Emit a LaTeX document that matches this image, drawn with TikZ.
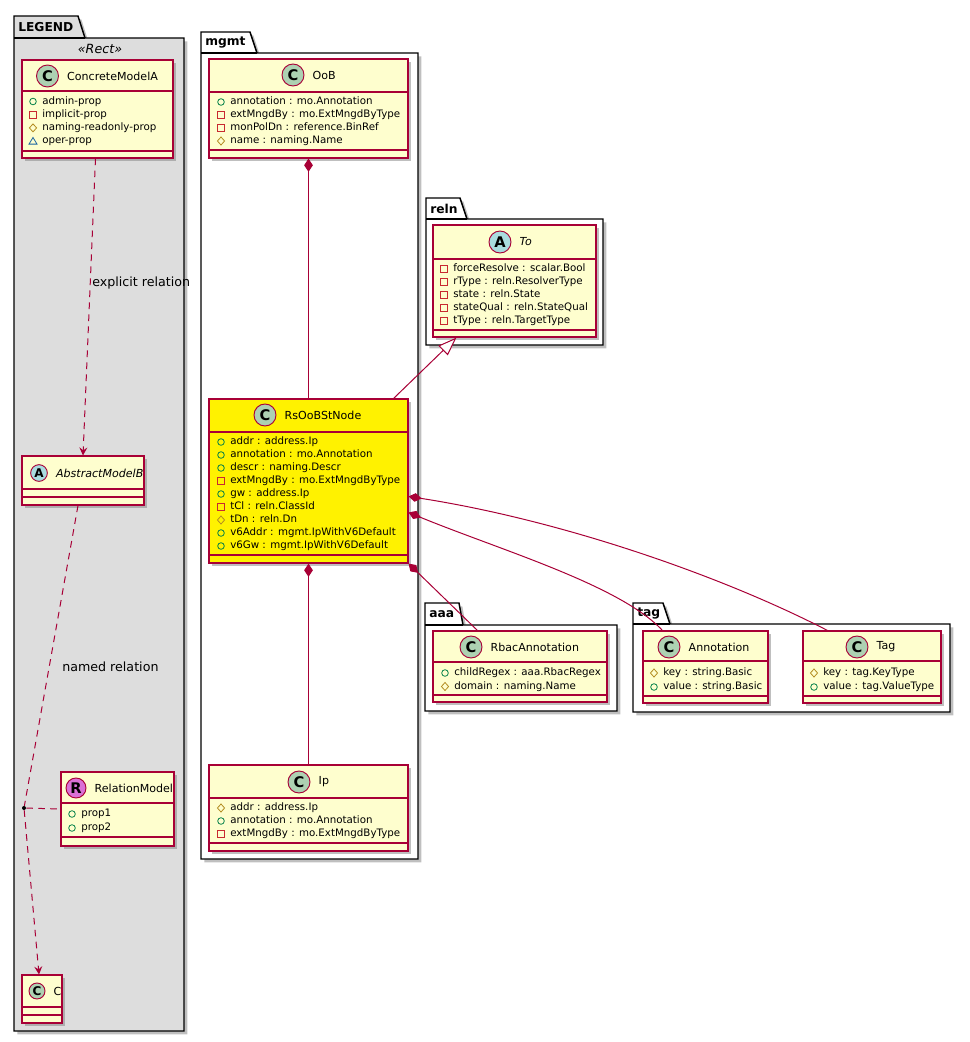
\documentclass[tikz,border=0pt]{standalone}
\usepackage{fontspec}
\setmainfont{DejaVu Sans}
\usetikzlibrary{positioning,fit,calc,shadows,arrows.meta}

\definecolor{umlred}{HTML}{A80036}
\definecolor{umlback}{HTML}{FEFECE}
\definecolor{circC}{HTML}{ADD1B2}
\definecolor{circA}{HTML}{A9DCDF}
\definecolor{circR}{HTML}{DA70D6}
\definecolor{legendgray}{HTML}{DDDDDD}
\definecolor{visgreen}{HTML}{038048}
\definecolor{visred}{HTML}{C82930}
\definecolor{visgold}{HTML}{B38D22}
\definecolor{visblue}{HTML}{1963A0}

\tikzset{
  shade/.style={drop shadow={shadow xshift=2.5pt, shadow yshift=-2.5pt, fill=black!50, opacity=0.5}},
  pkg/.style={draw=black, line width=1.1pt, fill=white, shade},
  pkgname/.style={font=\fontsize{9.2}{9.2}\selectfont\bfseries, anchor=west, inner sep=0},
  cls/.style={draw=umlred, line width=0.85pt, fill=umlback, inner sep=0, shade},
  sepline/.style={draw=umlred, line width=0.85pt},
  circ/.style={circle, draw=umlred, line width=0.7pt, inner sep=0, minimum size=16.5pt,
    font=\fontsize{11}{11}\selectfont\bfseries},
  cname/.style={font=\fontsize{8.3}{8.3}\selectfont, inner sep=0},
  attr/.style={font=\fontsize{7.7}{7.7}\selectfont, anchor=west, inner sep=0,
    text height=5.8pt, text depth=1.6pt},
  lbl/.style={font=\fontsize{9.5}{9.5}\selectfont, anchor=west, inner sep=0},
  rel/.style={draw=umlred, line width=0.75pt},
  dashrel/.style={rel, dash pattern=on 5pt off 4pt},
  dep/.style={dashrel, -{Stealth[length=6pt, width=6pt, inset=2.2pt]}},
  comp/.style={rel, {Diamond[length=10pt, width=6.5pt]}-},
  inh/.style={rel, {Triangle[length=14pt, width=10pt, fill=white]}-},
  dot/.style={circle, fill=black, inner sep=0, minimum size=3pt},
  pub/.pic={\draw[visgreen, line width=0.6pt] (0,0) circle (3.3);},
  priv/.pic={\draw[visred, line width=0.6pt] (-3.2,-3.2) rectangle (3.2,3.2);},
  prot/.pic={\draw[visgold, line width=0.6pt] (0,-4) -- (3.6,0) -- (0,4) -- (-3.6,0) -- cycle;},
  pkgv/.pic={\draw[visblue, line width=0.6pt] (0,-3.6) -- (4,3) -- (-4,3) -- cycle;}
}

% box, header line and attribute line of a class
\newcommand\umlclass[8][umlback]{%
  \node[cls, fill=#1, fit={(#3,#4) (#5,#6)}] (#2) {};
  \draw[sepline] (#3,#7) -- (#5,#7) (#3,#8) -- (#5,#8);
}
% circle letter and class name
\newcommand\umlhead[7][]{%
  \node[circ, fill=#3, #1] (#2c) at (#5,#6) {#4};
  \node[cname, right=6pt of #2c] (#2n) {#7};
}
% attribute rows
\newcommand\umlattrs[5]{%
  \foreach \v/\t [count=\i] in {#5} {
    \path (#2,{#3+#4*(\i-1)}) pic {\v};
    \node[attr] (#1a\i) at ({#2+9},{#3+#4*(\i-1)}) {\t};
  }
}

\begin{document}
\begin{tikzpicture}[x=0.75pt, y=-0.75pt]
\useasboundingbox (0,0) rectangle (970,1042);

% packages
\draw[pkg, fill=legendgray] (14,16) -- (78,16) -- (85,38) -- (184,38) -- (184,1031) -- (14,1031) -- cycle;
\draw[line width=1.1pt] (14,38) -- (85,38);
\node[pkgname] (pLegend) at (18,27) {LEGEND};
\node[font=\fontsize{9.5}{9.5}\selectfont\itshape, inner sep=0] (stRect) at (100,49) {«Rect»};

\draw[pkg] (201,32) -- (250,32) -- (257,53) -- (418,53) -- (418,859) -- (201,859) -- cycle;
\draw[line width=1.1pt] (201,53) -- (257,53);
\node[pkgname] (pMgmt) at (205,43) {mgmt};

\draw[pkg] (426,198) -- (460,198) -- (467,219) -- (603,219) -- (603,345) -- (426,345) -- cycle;
\draw[line width=1.1pt] (426,219) -- (467,219);
\node[pkgname] (pReln) at (430,209) {reln};

\draw[pkg] (425,603) -- (459,603) -- (463,625) -- (617,625) -- (617,711) -- (425,711) -- cycle;
\draw[line width=1.1pt] (425,625) -- (463,625);
\node[pkgname] (pAaa) at (429,614) {aaa};

\draw[pkg] (633,603) -- (663,603) -- (670,624) -- (950,624) -- (950,712) -- (633,712) -- cycle;
\draw[line width=1.1pt] (633,624) -- (670,624);
\node[pkgname] (pTag) at (637,614) {tag};

% legend classes
\umlclass{CMA}{22}{60}{173}{158}{91}{151}
\umlhead{CMA}{circC}{C}{47.5}{76}{ConcreteModelA}
\umlattrs{CMA}{33}{101.5}{13.2}{pub/admin-prop, priv/implicit-prop, prot/naming-readonly-prop, pkgv/oper-prop}

\umlclass{AMB}{22}{456}{144}{505}{489}{497}
\umlhead[minimum size=12.5pt, font=\fontsize{9}{9}\selectfont\bfseries]{AMB}{circA}{A}{39}{473}{\itshape AbstractModelB}

\umlclass{RM}{61}{772}{174}{846}{803}{837}
\umlhead[minimum size=15pt]{RM}{circR}{R}{76}{788}{RelationModel}
\umlattrs{RM}{72}{814}{14}{pub/prop1, pub/prop2}

\umlclass{C}{22}{975}{62}{1023}{1007}{1015}
\umlhead[minimum size=12pt, font=\fontsize{9}{9}\selectfont\bfseries]{C}{circC}{C}{37}{991}{C}

% mgmt
\umlclass{OoB}{209}{59}{408}{158}{92}{150}
\umlhead{OoB}{circC}{C}{293}{75}{OoB}
\umlattrs{OoB}{221}{102}{13}{pub/annotation : mo.Annotation, priv/extMngdBy : mo.ExtMngdByType, priv/monPolDn : reference.BinRef, prot/name : naming.Name}

\umlclass[yellow]{Rs}{209}{399}{408}{563}{432}{555}
\umlhead{Rs}{circC}{C}{265}{415}{RsOoBStNode}
\umlattrs{Rs}{221}{442}{13}{pub/addr : address.Ip, pub/annotation : mo.Annotation, pub/descr : naming.Descr, priv/extMngdBy : mo.ExtMngdByType, pub/gw : address.Ip, priv/tCl : reln.ClassId, prot/tDn : reln.Dn, pub/v6Addr : mgmt.IpWithV6Default, pub/v6Gw : mgmt.IpWithV6Default}

\umlclass{Ip}{209}{765}{408}{851}{798}{843}
\umlhead{Ip}{circC}{C}{299}{782}{Ip}
\umlattrs{Ip}{221}{808}{13}{prot/addr : address.Ip, pub/annotation : mo.Annotation, priv/extMngdBy : mo.ExtMngdByType}

% reln
\umlclass{To}{433}{225}{596}{337}{259}{330}
\umlhead{To}{circA}{A}{500}{242}{\itshape To}
\umlattrs{To}{444}{269}{13}{priv/forceResolve : scalar.Bool, priv/rType : reln.ResolverType, priv/state : reln.State, priv/stateQual : reln.StateQual, priv/tType : reln.TargetType}

% aaa
\umlclass{Rbac}{433}{631}{607}{702}{662}{695}
\umlhead{Rbac}{circC}{C}{471}{647}{RbacAnnotation}
\umlattrs{Rbac}{445}{673}{13.5}{pub/childRegex : aaa.RbacRegex, prot/domain : naming.Name}

% tag
\umlclass{Ann}{643}{631}{768}{703}{661}{696}
\umlhead{Ann}{circC}{C}{669}{647}{Annotation}
\umlattrs{Ann}{654}{673}{14}{prot/key : string.Basic, pub/value : string.Basic}

\umlclass{Tag}{803}{631}{941}{703}{661}{696}
\umlhead{Tag}{circC}{C}{857}{647}{Tag}
\umlattrs{Tag}{814}{673}{14}{prot/key : tag.KeyType, pub/value : tag.ValueType}

% legend relations
\draw[dep] ($(CMA.south)+(-2,0)$) -- (AMB.north);
\node[lbl] (lExplicit) at (92,283) {explicit relation};
\node[dot] (relpt) at (24,808) {};
\draw[dashrel] ($(AMB.south)+(-5,0)$) -- (relpt);
\draw[dep] (relpt) -- ($(C.north)+(-3,0)$);
\draw[dashrel] (relpt) -- (RM.west);
\node[lbl] (lNamed) at (62,667) {named relation};

% model relations
\draw[comp] (OoB.south) -- (Rs.north);
\draw[comp] (Rs.south) -- (Ip.north);
\draw[inh] ($(To.south west)+(24,0)$) -- ($(Rs.north east)+(-15,0)$);
\draw[comp] ($(Rs.north east)+(0,98)$) .. controls (560,520) and (720,575) .. ($(Tag.north west)+(25,0)$);
\draw[comp] ($(Rs.north east)+(0,114)$) .. controls (500,550) and (620,585) .. ($(Ann.north west)+(20,0)$);
\draw[comp] (Rs.south east) -- ($(Rbac.north west)+(45,0)$);
\end{tikzpicture}
\end{document}
